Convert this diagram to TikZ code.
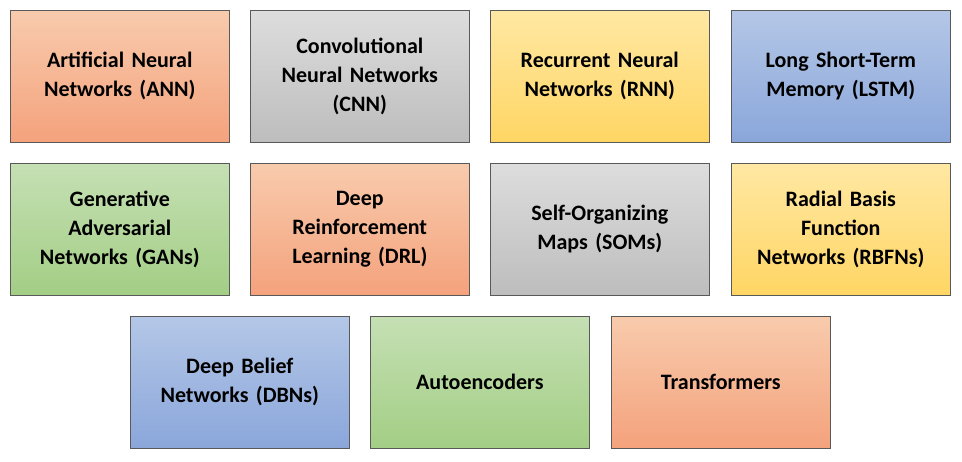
\documentclass[tikz,border=0pt]{standalone}
\usepackage{fontspec}
\setmainfont{Carlito}
\definecolor{oT}{HTML}{F8CBAD}\definecolor{oB}{HTML}{F4A27C}
\definecolor{gT}{HTML}{DDDDDD}\definecolor{gB}{HTML}{BDBDBD}
\definecolor{yT}{HTML}{FFE8A3}\definecolor{yB}{HTML}{FFD664}
\definecolor{bT}{HTML}{B4C7E7}\definecolor{bB}{HTML}{8AA6DA}
\definecolor{nT}{HTML}{C5E0B4}\definecolor{nB}{HTML}{A3CE85}
\begin{document}
\begin{tikzpicture}[x=1pt,y=-1pt,
box/.style={draw=black!65,line width=0.6pt,minimum width=219pt,minimum height=132pt,anchor=north west,align=center,text width=205pt,font=\bfseries\fontsize{22}{29}\selectfont,inner sep=0pt},
or/.style={box,top color=oT,bottom color=oB},
gr/.style={box,top color=gT,bottom color=gB},
ye/.style={box,top color=yT,bottom color=yB},
bl/.style={box,top color=bT,bottom color=bB},
gn/.style={box,top color=nT,bottom color=nB}]
\useasboundingbox (0,0) rectangle (962,461);
\node[or] (ann) at (10,10) {Artificial Neural\\Networks (ANN)};
\node[gr] (cnn) at (250,10) {Convolutional\\Neural Networks\\(CNN)};
\node[ye] (rnn) at (490,10) {Recurrent Neural\\Networks (RNN)};
\node[bl] (lstm) at (731,10) {Long Short-Term\\Memory (LSTM)};
\node[gn] (gan) at (10,163) {Generative\\Adversarial\\Networks (GANs)};
\node[or] (drl) at (250,163) {Deep\\Reinforcement\\Learning (DRL)};
\node[gr] (som) at (490,163) {Self-Organizing\\Maps (SOMs)};
\node[ye] (rbf) at (731,163) {Radial Basis\\Function\\Networks (RBFNs)};
\node[bl] (dbn) at (130,316) {Deep Belief\\Networks (DBNs)};
\node[gn] (ae) at (370,316) {Autoencoders};
\node[or] (tf) at (611,316) {Transformers};
\end{tikzpicture}
\end{document}
